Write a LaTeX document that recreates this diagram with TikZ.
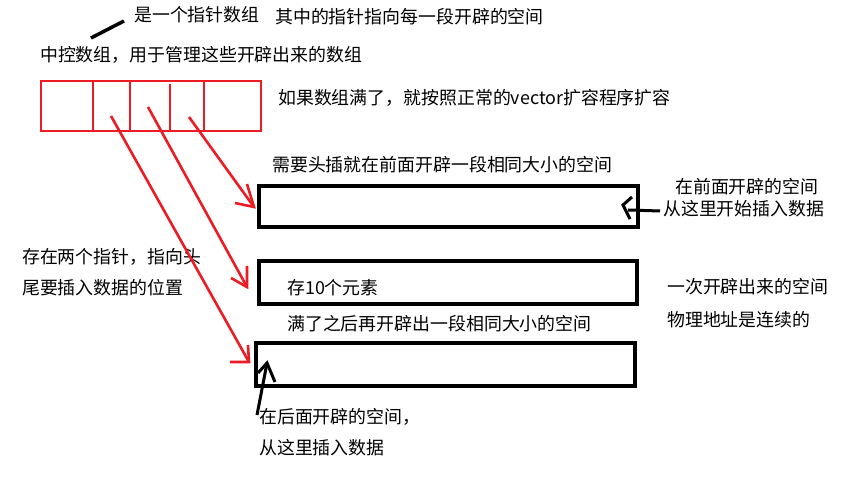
\documentclass[tikz,border=0pt]{standalone}
\usepackage{fontspec}
\setmainfont{Noto Sans CJK SC}
\definecolor{mspred}{RGB}{237,28,36}
\begin{document}
\begin{tikzpicture}[x=1pt,y=-1pt,
  txt/.style={anchor=west, inner sep=0pt, font=\fontsize{17.9}{18}\selectfont},
  redline/.style={draw=mspred, line width=2.6pt},
  boxline/.style={draw=black, line width=4.5pt},
  blk/.style={draw=black, line width=3pt}]
\useasboundingbox (0,0) rectangle (863,489);
\fill[white] (0,0) rectangle (863,489);
% texts
\node[txt] (t1) at (134,15) {是一个指针数组};
\node[txt] (t2) at (275,17) {其中的指针指向每一段开辟的空间};
\node[txt] (t3) at (40,55) {中控数组，用于管理这些开辟出来的数组};
\node[txt] (t4) at (278,98) {如果数组满了，就按照正常的vector扩容程序扩容};
\node[txt] (t5) at (272,165) {需要头插就在前面开辟一段相同大小的空间};
\node[txt] (t6) at (675,187) {在前面开辟的空间};
\node[txt] (t7) at (663,209) {从这里开始插入数据};
\node[txt] (t8) at (22,257) {存在两个指针，指向头};
\node[txt] (t9) at (22,288) {尾要插入数据的位置};
\node[txt] (t10) at (287,288) {存10个元素};
\node[txt] (t11) at (667,287) {一次开辟出来的空间};
\node[txt] (t12) at (667,320) {物理地址是连续的};
\node[txt] (t13) at (287,324) {满了之后再开辟出一段相同大小的空间};
\node[txt] (t14) at (259,417) {在后面开辟的空间，};
\node[txt] (t15) at (259,448) {从这里插入数据};
% pointer annotation stroke
\coordinate (s1) at (91,38);
\coordinate (s2) at (124,21);
\draw[blk, line width=3.5pt] (s1) -- (s2);
% central array
\draw[redline] (41,81) rectangle (261,131);
\draw[redline] (93,81) -- (93,131);
\draw[redline] (130,81) -- (130,131);
\draw[redline] (170,84) -- (170,131);
\draw[redline] (204,81) -- (204,131);
% buffers
\draw[boxline] (259,186) rectangle (638,227);
\draw[boxline] (259,261) rectangle (637,304);
\draw[boxline] (256,343) rectangle (635,386);
% red pointers
\coordinate (p1) at (111,116);
\coordinate (p2) at (148,107);
\coordinate (p3) at (189,117);
\coordinate (e1) at (249,362);
\coordinate (e2) at (247,287);
\coordinate (e3) at (254,207);
\draw[redline] (p1) -- (e1);
\draw[redline] (230,362) -- (e1) -- (248,345);
\draw[redline] (p2) -- (e2);
\draw[redline] (231,278) -- (e2) -- (247,266);
\draw[redline] (p3) -- (e3);
\draw[redline] (235,203) -- (e3) -- (247,184);
% black arrows
\coordinate (b1) at (660,211);
\coordinate (b1t) at (623,205);
\draw[blk] (b1) -- (628,210);
\draw[blk] (632,197) -- (b1t) -- (630,219);
\coordinate (b2) at (257,415);
\coordinate (b2t) at (267,363);
\draw[blk] (b2) -- (b2t);
\draw[blk] (258,373) -- (b2t) -- (275,382);
\end{tikzpicture}
\end{document}
